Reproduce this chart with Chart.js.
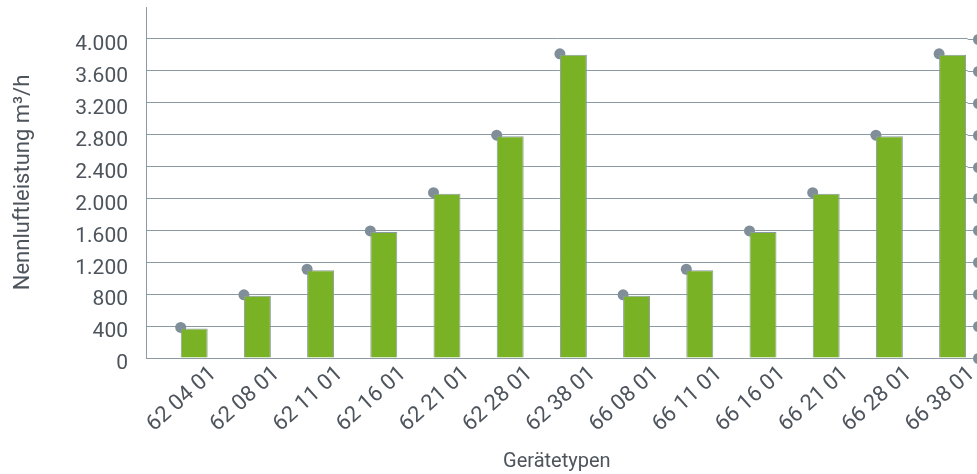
<!DOCTYPE html>
<html>
<head>
<meta charset="utf-8">
<script src="https://cdn.jsdelivr.net/npm/chart.js@4.4.0/dist/chart.umd.min.js"></script>
<style>
  html, body { margin: 0; padding: 0; background: #fff; overflow: hidden; }
  #wrap { width: 977px; height: 474px; }
</style>
</head>
<body>
<div id="wrap"><canvas id="barChart" width="977" height="474"></canvas></div>
<script>
const categories = ['62 04 01', '62 08 01', '62 11 01', '62 16 01', '62 21 01', '62 28 01', '62 38 01',
  '66 08 01', '66 11 01', '66 16 01', '66 21 01', '66 28 01', '66 38 01'];
const airflow = [370, 780, 1100, 1580, 2060, 2780, 3800, 780, 1100, 1580, 2060, 2780, 3800];
const yTicks = [0, 400, 800, 1200, 1600, 2000, 2400, 2800, 3200, 3600, 4000];

const textColor = '#4d545c';
const lineColor = '#8c9aa4';
const dotColor = '#7f8e98';
const green = '#7ab225';

const fmt = v => String(v).replace(/\B(?=(\d{3})+(?!\d))/g, '.');

// grey dots: top-left corner of each bar, and at the right end of every gridline
const dotsPlugin = {
  id: 'dots',
  beforeDatasetsDraw(chart) {
    const ctx = chart.ctx;
    const meta = chart.getDatasetMeta(1);
    ctx.save();
    ctx.fillStyle = dotColor;
    meta.data.forEach(bar => {
      ctx.beginPath();
      ctx.arc(bar.x - bar.width / 2, bar.y - 1, 5.5, 0, Math.PI * 2);
      ctx.fill();
    });
    ctx.restore();
  },
  afterDraw(chart) {
    const ctx = chart.ctx;
    const y = chart.scales.y;
    const x1 = chart.chartArea.right;
    const x2 = 978.5;
    ctx.save();
    y.ticks.forEach(t => {
      const py = Math.round(y.getPixelForValue(t.value)) + 0.5;
      ctx.strokeStyle = lineColor;
      ctx.lineWidth = 1;
      ctx.beginPath();
      ctx.moveTo(x1, py);
      ctx.lineTo(x2, py);
      ctx.stroke();
      ctx.fillStyle = dotColor;
      ctx.beginPath();
      ctx.arc(x2, py, 5.5, 0, Math.PI * 2);
      ctx.fill();
    });
    ctx.restore();
  }
};

const barChart = new Chart(document.getElementById('barChart').getContext('2d'), {
  type: 'bar',
  data: {
    labels: categories,
    datasets: [{
      label: 'spacer',
      data: categories.map(() => null)
    }, {
      label: 'Nennluftleistung',
      data: airflow,
      backgroundColor: green,
      borderColor: lineColor,
      borderWidth: 1,
      borderSkipped: 'bottom'
    }]
  },
  options: {
    responsive: false,
    animation: false,
    categoryPercentage: 1.05,
    barPercentage: 0.813,
    layout: { padding: { top: 7, right: 9.4, left: 0, bottom: 0 } },
    plugins: { legend: { display: false }, tooltip: { enabled: false } },
    scales: {
      x: {
        grid: { display: false, drawTicks: false },
        border: { display: true, color: lineColor, width: 1 },
        ticks: {
          color: textColor,
          font: { family: 'Roboto', size: 22 },
          minRotation: 42,
          maxRotation: 42,
          padding: 3,
          labelOffset: 36,
          autoSkip: false
        },
        title: {
          display: true,
          text: 'Gerätetypen',
          color: textColor,
          font: { family: 'Roboto', size: 20 },
          padding: { top: 0, bottom: 0 }
        },
        afterFit(scale) {
          scale.height = 116;
          scale.paddingLeft = 0;
          scale.paddingRight = 0;
        }
      },
      y: {
        min: 0,
        max: 4400,
        afterBuildTicks(scale) { scale.ticks = yTicks.map(v => ({ value: v })); },
        grid: { color: lineColor, lineWidth: 1, drawTicks: false },
        border: { display: true, color: lineColor, width: 1 },
        ticks: {
          color: textColor,
          font: { family: 'Roboto', size: 21 },
          padding: 18,
          labelOffset: 6,
          callback: v => fmt(v)
        },
        title: {
          display: true,
          text: 'Nennluftleistung m³/h',
          color: textColor,
          font: { family: 'Roboto', size: 22 },
          padding: { top: 10, bottom: 0 }
        },
        afterFit(scale) {
          scale.width = 146;
          scale.paddingTop = 0;
          scale.paddingBottom = 0;
        }
      }
    }
  },
  plugins: [dotsPlugin]
});
</script>
</body>
</html>
